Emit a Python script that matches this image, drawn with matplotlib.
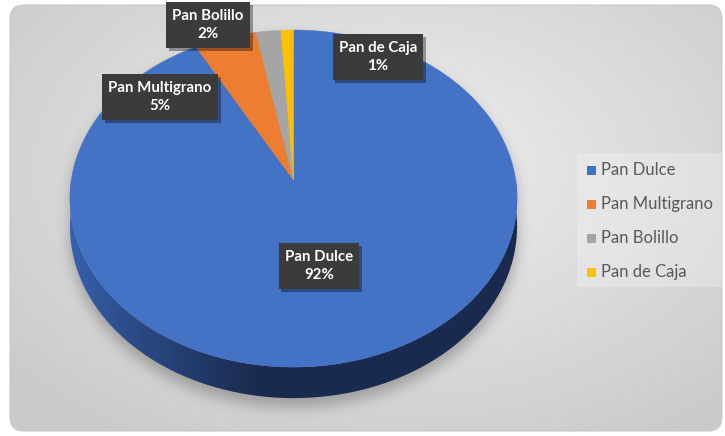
import numpy as np
import matplotlib.pyplot as plt
from matplotlib.patches import Polygon, FancyBboxPatch, Rectangle
from matplotlib.path import Path
from matplotlib.colors import to_rgb
import matplotlib.patheffects as pe

# data
categories = ["Pan Dulce", "Pan Multigrano", "Pan Bolillo", "Pan de Caja"]
values = [92, 5, 2, 1]
colors = ["#4472C4", "#ED7D31", "#A5A5A5", "#FFC000"]
label_pos = [(319, 266), (160, 97), (208, 25), (378, 57)]

W, H = 725, 436
fig = plt.figure(figsize=(W / 100, H / 100), dpi=100)
ax = fig.add_axes([0, 0, 1, 1])
ax.set_xlim(0, W)
ax.set_ylim(H, 0)
ax.axis("off")

yy, xx = np.mgrid[0:H, 0:W] + 0.5

# background panel with radial gradient
panel = FancyBboxPatch((10, 5), 712, 426, boxstyle="round,pad=0,rounding_size=14",
                       fc="none", ec="#c8c8c8", lw=0.8, zorder=1)
ax.add_patch(panel)
r = np.hypot((xx - 390) / 520, (yy - 170) / 330)
light, dark = np.array(to_rgb("#efefef")), np.array(to_rgb("#c9c9c9"))
t = np.clip(r, 0, 1)[..., None]
bg = light * (1 - t) + dark * t
im = ax.imshow(bg, extent=(0, W, H, 0), zorder=0)
im.set_clip_path(panel)

# tilted disc with a bit of perspective (front edge nearer than back edge)
cx, cy, A, B, k, D = 293.5, 180.0, 222.2, 166.5, 0.11, 27.6


def proj(theta, drop=0.0):
    u, v = np.cos(theta), -np.sin(theta)
    s = 1.0 / (1.0 - k * v)
    return np.column_stack([cx + A * u * s, cy + B * v * s + drop * D * s])


def box_blur(a, n):
    out = a.copy()
    for axis in (0, 1):
        pad = [(n, n) if i == axis else (0, 0) for i in (0, 1)]
        c = np.cumsum(np.pad(out, pad, mode="edge"), axis=axis)
        c = np.concatenate([np.zeros_like(c.take([0], axis=axis)), c], axis=axis)
        m = out.shape[axis]
        out = (c.take(np.arange(2 * n + 1, 2 * n + 1 + m), axis=axis)
               - c.take(np.arange(0, m), axis=axis)) / (2 * n + 1)
    return out


back = proj(np.linspace(0, np.pi, 200))
front = proj(np.linspace(np.pi, 2 * np.pi, 200), drop=1.0)
outline = Path(np.vstack([back, front]))

# soft drop shadow under the pie
grid = np.column_stack([xx.ravel(), yy.ravel() - 9])
mask = outline.contains_points(grid).reshape(H, W).astype(float)
for _ in range(3):
    mask = box_blur(mask, 6)
shadow = np.zeros((H, W, 4))
shadow[..., :3] = 0.45
shadow[..., 3] = mask * 0.55
ax.imshow(shadow, extent=(0, W, H, 0), zorder=2)

# side wall of the pie
th = np.linspace(np.pi, 2 * np.pi, 200)
side = Polygon(np.vstack([proj(th), proj(th[::-1], drop=1.0)]), closed=True,
               fc="none", ec="none", zorder=3)
ax.add_patch(side)
c0, c1 = np.array(to_rgb("#3863b0")), np.array(to_rgb("#1a2a4f"))
g = np.clip((xx - 70) / 190, 0, 1) ** 0.8
sg = c0 * (1 - g[..., None]) + c1 * g[..., None]
sim = ax.imshow(sg, extent=(0, W, H, 0), zorder=3)
sim.set_clip_path(side)

# top face wedges, clockwise from 12 o'clock
total = sum(values)
start = 90.0
for name, v, col in zip(categories, values, colors):
    sweep = 360.0 * v / total
    a = np.radians(np.linspace(start, start - sweep, max(int(sweep), 2) * 3))
    pts = np.vstack([[cx, cy], proj(a)])
    ax.add_patch(Polygon(pts, closed=True, fc=col, ec=col, lw=0.3, zorder=4))
    start -= sweep

# data labels
for name, v, (lx, ly) in zip(categories, values, label_pos):
    txt = ax.text(lx, ly, f"{name}\n{v / total * 100:.0f}%", ha="center", va="center",
                  color="white", fontsize=10.8, fontweight="bold", family="Lato",
                  linespacing=1.45, zorder=6,
                  bbox=dict(boxstyle="square,pad=0.42", fc="#3b3b3b", ec="none"))
    txt.get_bbox_patch().set_path_effects(
        [pe.SimplePatchShadow(offset=(2, -2), shadow_rgbFace="black", alpha=0.35), pe.Normal()])

# legend
ax.add_patch(Rectangle((577, 153), 146, 134, fc="white", alpha=0.25, ec="none", zorder=5))
for i, (name, col) in enumerate(zip(categories, colors)):
    y = 170 + i * 34
    ax.add_patch(Rectangle((587, y - 4.5), 9, 9, fc=col, ec="none", zorder=6))
    ax.text(601, y, name, va="center", ha="left", fontsize=12, family="Lato",
            color="#595959", zorder=6)

fig.savefig("out.png", dpi=100)
